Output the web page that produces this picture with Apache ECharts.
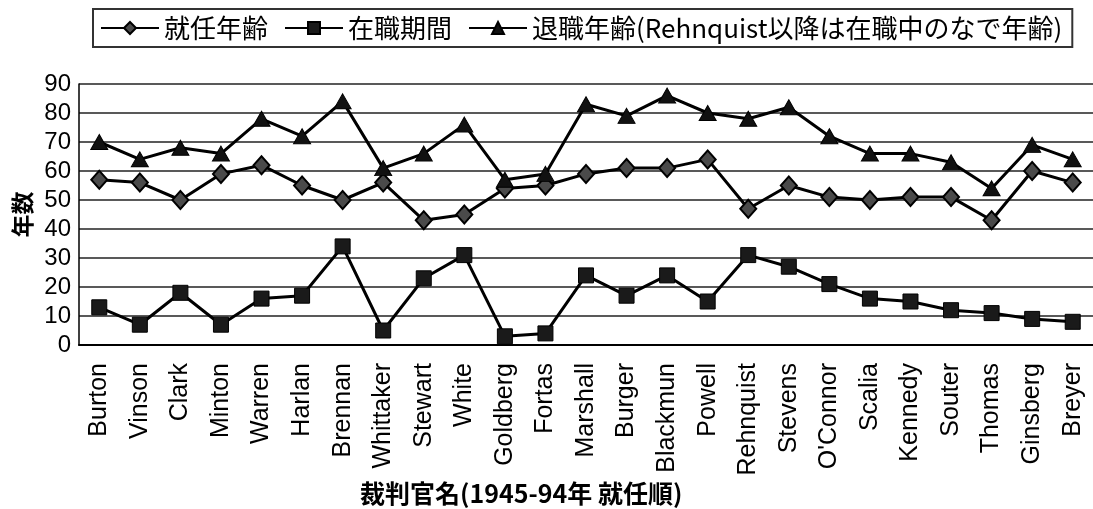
<!DOCTYPE html>
<html>
<head>
<meta charset="utf-8">
<script src="https://cdn.jsdelivr.net/npm/echarts@6/dist/echarts.min.js"></script>
<style>
  html, body { margin: 0; padding: 0; background: #fff; }
  #chart { width: 1093px; height: 509px; }
</style>
</head>
<body>
<div id="chart"></div>
<script>
// 裁判官名 (1945-94年 就任順)
const justices = ['Burton', 'Vinson', 'Clark', 'Minton', 'Warren', 'Harlan', 'Brennan', 'Whittaker',
  'Stewart', 'White', 'Goldberg', 'Fortas', 'Marshall', 'Burger', 'Blackmun', 'Powell',
  'Rehnquist', 'Stevens', "O'Connor", 'Scalia', 'Kennedy', 'Souter', 'Thomas', 'Ginsberg', 'Breyer']

// 就任年齢
const ageAtAppointment = [57, 56, 50, 59, 62, 55, 50, 56, 43, 45, 54, 55, 59, 61, 61, 64, 47, 55, 51, 50, 51, 51, 43, 60, 56]
// 在職期間
const yearsServed = [13, 7, 18, 7, 16, 17, 34, 5, 23, 31, 3, 4, 24, 17, 24, 15, 31, 27, 21, 16, 15, 12, 11, 9, 8]
// 退職年齢
const ageAtRetirement = [70, 64, 68, 66, 78, 72, 84, 61, 66, 76, 57, 59, 83, 79, 86, 80, 78, 82, 72, 66, 66, 63, 54, 69, 64]

const seriesNames = ['就任年齢', '在職期間', '退職年齢(Rehnquist以降は在職中のなで年齢)']

const chart = echarts.init(document.getElementById('chart'))

const lineStyle = { color: '#000', width: 3 }

const options = {
  backgroundColor: '#fff',
  animation: false,
  legend: {
    left: 93,
    top: 9,
    padding: [6, 10, 6, 7],
    itemGap: 16,
    itemWidth: 58,
    itemHeight: 15,
    borderColor: '#333',
    borderWidth: 2,
    data: seriesNames,
    textStyle: {
      fontFamily: 'Noto Sans CJK JP',
      fontSize: 26,
      color: '#000'
    }
  },
  grid: {
    left: 79,
    right: -6,
    top: 84,
    bottom: 164
  },
  xAxis: {
    type: 'category',
    data: justices,
    boundaryGap: true,
    axisLine: { lineStyle: { color: '#000', width: 2 } },
    axisTick: { inside: true, length: 7, lineStyle: { color: '#000', width: 1.5 } },
    axisLabel: {
      rotate: 90,
      margin: 18,
      interval: 0,
      fontFamily: 'Liberation Sans',
      fontSize: 25,
      color: '#000'
    }
  },
  yAxis: {
    type: 'value',
    min: 0,
    max: 90,
    interval: 10,
    name: '年数',
    nameLocation: 'middle',
    nameGap: 40,
    nameTextStyle: {
      fontFamily: 'Noto Sans CJK JP',
      fontSize: 23,
      fontWeight: 'bold',
      color: '#000'
    },
    axisLine: { show: true, lineStyle: { color: '#000', width: 1.5 } },
    axisTick: { show: false },
    axisLabel: {
      margin: 8,
      fontFamily: 'Liberation Sans',
      fontSize: 24,
      color: '#000'
    },
    splitLine: { lineStyle: { color: '#222', width: 1.5 } }
  },
  graphic: [{
    type: 'text',
    left: 360,
    top: 481,
    style: {
      text: '裁判官名(1945-94年 就任順)',
      font: 'bold 25px "Noto Sans CJK JP"',
      fill: '#000'
    }
  }],
  series: [
    {
      name: seriesNames[0],
      type: 'line',
      data: ageAtAppointment,
      symbol: 'diamond',
      symbolSize: [16, 18],
      showAllSymbol: true,
      lineStyle: lineStyle,
      itemStyle: { color: '#4a4a4a', borderColor: '#000', borderWidth: 2 }
    },
    {
      name: seriesNames[1],
      type: 'line',
      data: yearsServed,
      symbol: 'rect',
      symbolSize: 15,
      showAllSymbol: true,
      lineStyle: lineStyle,
      itemStyle: { color: '#1a1a1a', borderColor: '#000', borderWidth: 1 }
    },
    {
      name: seriesNames[2],
      type: 'line',
      data: ageAtRetirement,
      symbol: 'triangle',
      symbolSize: [17, 15],
      showAllSymbol: true,
      lineStyle: lineStyle,
      itemStyle: { color: '#111', borderColor: '#000', borderWidth: 1 }
    }
  ]
}

chart.setOption(options)
</script>
</body>
</html>
